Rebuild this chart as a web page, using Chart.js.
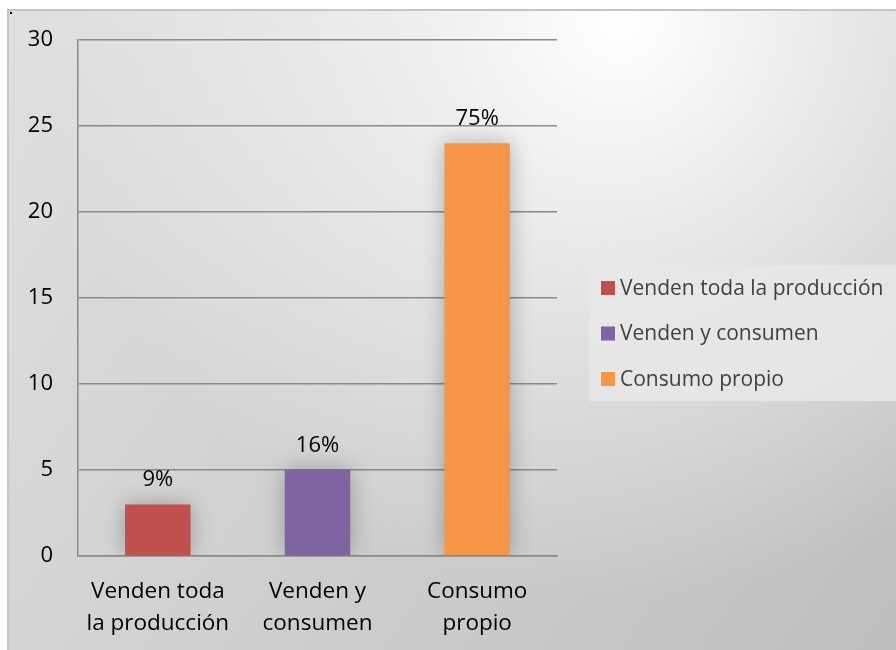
<!DOCTYPE html>
<html>
<head>
<meta charset="utf-8">
<script src="https://cdn.jsdelivr.net/npm/chart.js@4/dist/chart.umd.min.js"></script>
<style>
    html, body { margin: 0; padding: 0; background: #fff; }
    #wrap { width: 896px; height: 650px; }
</style>
</head>
<body>
<div id="wrap"><canvas id="chart" width="896" height="650"></canvas></div>
<script>
// datos del gráfico
const categories = [['Venden toda', 'la producción'], ['Venden y', 'consumen'], ['Consumo', 'propio']];
const legendLabels = ['Venden toda la producción', 'Venden y consumen', 'Consumo propio'];
const values = [3, 5, 24];
const percentLabels = ['9%', '16%', '75%'];
const barColors = ['#c0504d', '#8064a2', '#f79646'];
const yTicks = [0, 5, 10, 15, 20, 25, 30];

const FONT = "'Open Sans', 'Noto Sans', sans-serif";

// fondo degradado + borde del marco
const backgroundPlugin = {
    id: 'bg',
    beforeDraw(chart) {
        const ctx = chart.ctx;
        const x0 = 8, y0 = 10, w = chart.width - x0, h = chart.height - y0;
        ctx.save();
        const lin = ctx.createLinearGradient(x0, y0, chart.width, chart.height);
        lin.addColorStop(0, '#e0e0e0');
        lin.addColorStop(1, '#bebebe');
        ctx.fillStyle = lin;
        ctx.fillRect(x0, y0, w, h);
        const rad = ctx.createRadialGradient(620, 20, 0, 620, 20, 580);
        rad.addColorStop(0, 'rgba(255,255,255,1)');
        rad.addColorStop(0.35, 'rgba(255,255,255,0.6)');
        rad.addColorStop(1, 'rgba(255,255,255,0)');
        ctx.fillStyle = rad;
        ctx.fillRect(x0, y0, w, h);
        ctx.strokeStyle = '#c4c4c4';
        ctx.lineWidth = 2;
        ctx.beginPath();
        ctx.moveTo(x0, chart.height);
        ctx.lineTo(x0, y0);
        ctx.lineTo(chart.width, y0);
        ctx.stroke();
        ctx.fillStyle = '#000';
        ctx.fillRect(10, 12, 2, 2);
        ctx.restore();
    }
};

// sombra suave alrededor de las barras
const shadowPlugin = {
    id: 'barShadow',
    beforeDatasetsDraw(chart) {
        const ctx = chart.ctx;
        ctx.save();
        ctx.shadowColor = 'rgba(0,0,0,0.28)';
        ctx.shadowBlur = 22;
    },
    afterDatasetsDraw(chart) {
        chart.ctx.restore();
    }
};

// etiquetas de porcentaje sobre las barras
const percentPlugin = {
    id: 'percent',
    afterDatasetsDraw(chart) {
        const ctx = chart.ctx;
        const meta = chart.getDatasetMeta(0);
        ctx.save();
        ctx.font = '22px ' + FONT;
        ctx.fillStyle = '#000';
        ctx.textAlign = 'center';
        ctx.textBaseline = 'alphabetic';
        meta.data.forEach((bar, i) => {
            ctx.fillText(percentLabels[i], bar.x, bar.y - 18);
        });
        ctx.restore();
    }
};

// leyenda a la derecha con caja
const legendPlugin = {
    id: 'sideLegend',
    afterDraw(chart) {
        const ctx = chart.ctx;
        const boxX = 589, boxY = 265, boxW = chart.width - 589, boxH = 136;
        ctx.save();
        ctx.fillStyle = 'rgba(232,232,232,0.85)';
        ctx.fillRect(boxX, boxY, boxW, boxH);
        ctx.font = '21px ' + FONT;
        ctx.textBaseline = 'middle';
        legendLabels.forEach((label, i) => {
            const cy = 288 + i * 45.5;
            ctx.fillStyle = barColors[i];
            ctx.fillRect(601, cy - 7, 14, 14);
            ctx.fillStyle = '#404040';
            ctx.fillText(label, 620, cy + 1);
        });
        ctx.restore();
    }
};

new Chart(document.getElementById('chart'), {
    type: 'bar',
    data: {
        labels: categories,
        datasets: [{
            data: values,
            backgroundColor: barColors,
            borderWidth: 0,
            categoryPercentage: 1,
            barPercentage: 0.41
        }]
    },
    options: {
        responsive: false,
        animation: false,
        events: [],
        layout: { padding: { left: 0, right: 339, top: 40, bottom: 0 } },
        plugins: {
            legend: { display: false },
            tooltip: { enabled: false }
        },
        scales: {
            x: {
                grid: { display: false, drawTicks: false },
                border: { display: true, color: '#8a8a8a', width: 1.5 },
                ticks: {
                    color: '#000',
                    font: { family: FONT, size: 22.5, lineHeight: 1.42 },
                    padding: 20,
                    maxRotation: 0,
                    autoSkip: false
                },
                afterFit: (s) => { s.height = 94; }
            },
            y: {
                min: 0,
                max: 30,
                afterBuildTicks: (s) => { s.ticks = yTicks.map(v => ({ value: v })); },
                grid: { color: '#8a8a8a', lineWidth: 1.5, drawTicks: false },
                border: { display: true, color: '#8a8a8a', width: 1.5 },
                ticks: {
                    color: '#000',
                    font: { family: FONT, size: 22 },
                    padding: 25
                },
                afterFit: (s) => { s.width = 78; }
            }
        }
    },
    plugins: [backgroundPlugin, shadowPlugin, percentPlugin, legendPlugin]
});
</script>
</body>
</html>
